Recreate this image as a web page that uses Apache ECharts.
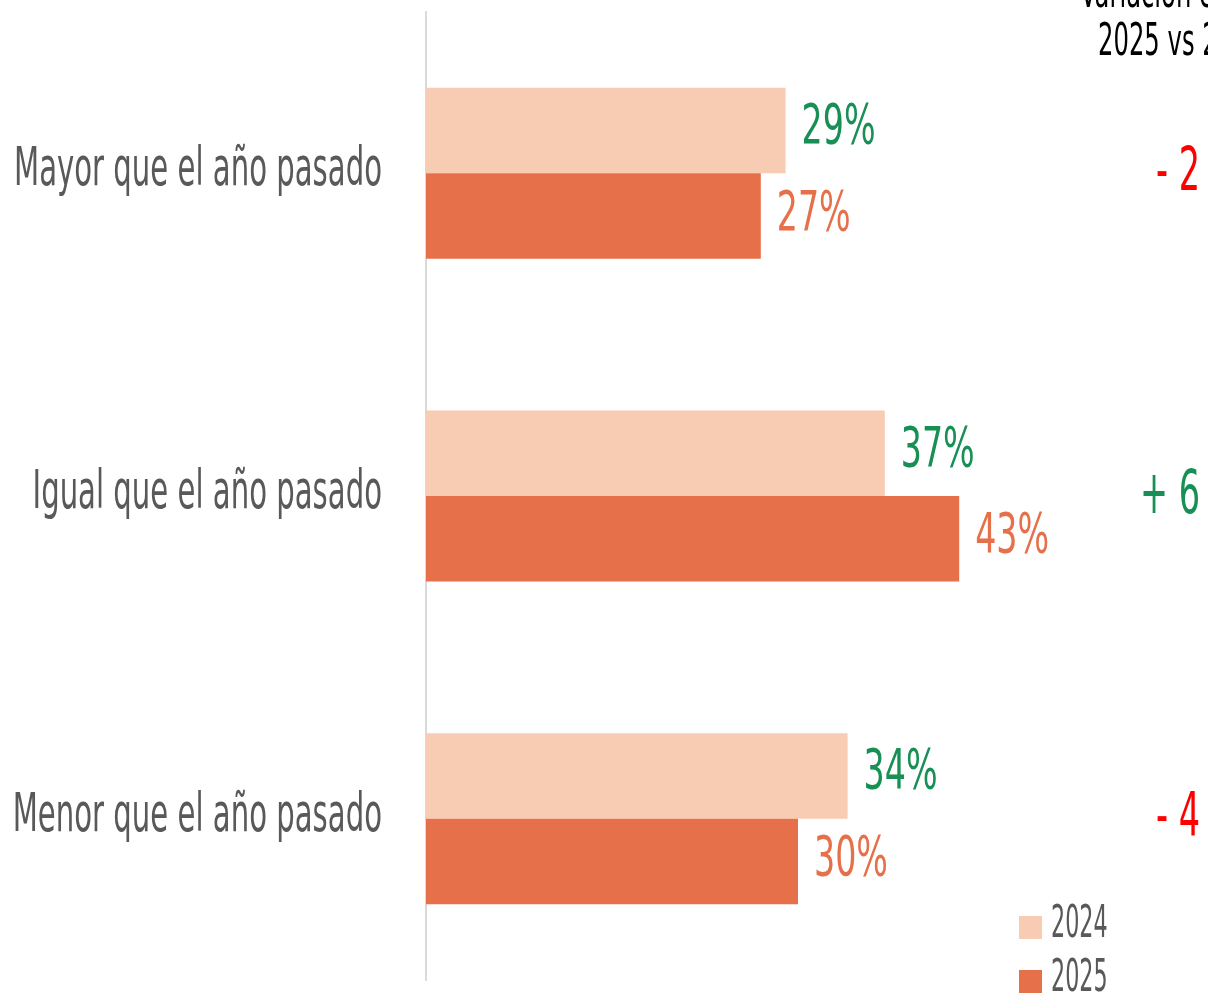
<!DOCTYPE html>
<html>
<head>
<meta charset="utf-8">
<script src="https://cdn.jsdelivr.net/npm/echarts@6/dist/echarts.min.js"></script>
<style>
  html, body { margin: 0; padding: 0; background: #fff; }
  #chart { width: 1208px; height: 993px; }
</style>
</head>
<body>
<div id="chart"></div>
<script>
// datos
const categories = ['Mayor que el año pasado', 'Igual que el año pasado', 'Menor que el año pasado'];
const years = ['2024', '2025'];
const values2024 = [29, 37, 34];
const values2025 = [27, 43, 30];
const variation = [-2, 6, -4];
const headerLines = ['Variación en pp', '2025 vs 2024'];

// fuente condensada: no hay una "narrow" instalada, se estrecha con scaleX
const FONT = "'DejaVu Sans Condensed', 'DejaVu Sans', sans-serif";
const GREEN = '#178F55';
const RED = '#FF0000';
const GREY = '#595959';
const C2024 = '#F7CCB3';
const C2025 = '#E6704A';
const GAP = 0.47;
const LEGEND_TOP = [916, 970];

const chart = echarts.init(document.getElementById('chart'));

chart.setOption({
    animation: false,
    textStyle: { fontFamily: FONT },
    grid: { left: 426, top: 12, bottom: 13, right: 38, outerBoundsMode: 'none', containLabel: false },
    // una leyenda por serie, solo el cuadro; el texto va como graphic estrechado
    legend: years.map((y, i) => ({
        left: 1019, top: LEGEND_TOP[i], padding: 0,
        itemWidth: 23, itemHeight: 23, icon: 'rect',
        data: [y],
        formatter: () => '',
        textStyle: { fontSize: 10, color: GREY, fontFamily: FONT }
    })),
    xAxis: {
        type: 'value',
        min: 0,
        max: 60,
        show: false
    },
    yAxis: {
        type: 'category',
        inverse: true,
        data: categories,
        axisTick: { show: false },
        axisLine: { lineStyle: { color: '#d9d9d9', width: 2 } },
        axisLabel: { show: false }
    },
    series: [
        {
            name: years[0],
            type: 'bar',
            data: values2024,
            barGap: 0,
            barCategoryGap: (GAP * 100) + '%',
            itemStyle: { color: C2024 }
        },
        {
            name: years[1],
            type: 'bar',
            data: values2025,
            barGap: 0,
            barCategoryGap: (GAP * 100) + '%',
            itemStyle: { color: C2025 }
        }
    ]
});

const px = (v, cat) => chart.convertToPixel({ xAxisIndex: 0, yAxisIndex: 0 }, [v, cat]);
const band = chart.convertToPixel({ yAxisIndex: 0 }, categories[1]) - chart.convertToPixel({ yAxisIndex: 0 }, categories[0]);
const barW = band * (1 - GAP) / 2;

const txt = (x, y, text, size, color, align, sx) => ({
    type: 'text',
    x: x,
    y: y,
    scaleX: sx,
    style: {
        text: text,
        fontSize: size,
        fill: color,
        align: align,
        verticalAlign: 'middle',
        fontFamily: FONT
    }
});

const graphics = [];

// etiquetas de categoria
categories.forEach((c, i) => {
    const p = px(0, c);
    graphics.push(txt(p[0] - 44, p[1] - 2, c, 54, GREY, 'right', 0.6));
});

// etiquetas de valores
values2024.forEach((v, i) => {
    const p = px(v, categories[i]);
    graphics.push(txt(p[0] + 16, p[1] - barW / 2 - 2, v + '%', 56, GREEN, 'left', 0.66));
});
values2025.forEach((v, i) => {
    const p = px(v, categories[i]);
    graphics.push(txt(p[0] + 16, p[1] + barW / 2 - 1, v + '%', 56, C2025, 'left', 0.66));
});

// columna de variacion
graphics.push(txt(1080, -5, headerLines[0], 45, '#000', 'left', 0.6));
graphics.push(txt(1098, 43, headerLines[1], 45, '#000', 'left', 0.6));
variation.forEach((v, i) => {
    const p = px(0, categories[i]);
    graphics.push(txt(1200, p[1] + 1, (v < 0 ? '- ' : '+ ') + Math.abs(v), 60, v < 0 ? RED : GREEN, 'right', 0.62));
});

// textos de leyenda
years.forEach((y, i) => {
    graphics.push(txt(1051, LEGEND_TOP[i] + 9, y, 45, GREY, 'left', 0.55));
});

chart.setOption({ graphic: graphics });
</script>
</body>
</html>
